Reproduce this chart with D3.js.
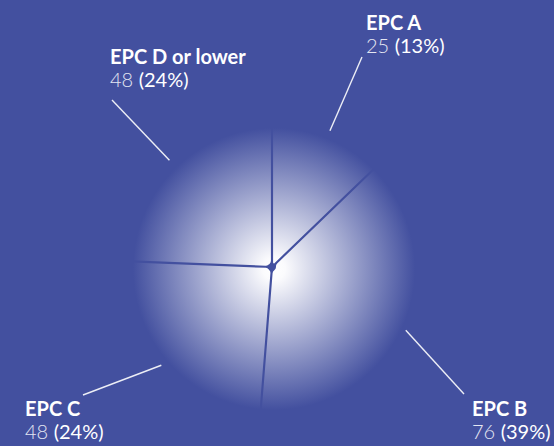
<!DOCTYPE html>
<html>
<head>
<meta charset="utf-8">
<script src="https://cdn.jsdelivr.net/npm/d3@7"></script>
<style>
  html, body { margin: 0; padding: 0; background: #43509f; }
  svg { display: block; }
  text { font-family: Lato, "Open Sans", sans-serif; }
</style>
</head>
<body>
<svg id="chart" width="554" height="446"></svg>
<script>
// EPC rating breakdown
const categories = ["EPC A", "EPC B", "EPC C", "EPC D or lower"];
const counts = [25, 76, 48, 48];
const shareLabels = ["13%", "39%", "24%", "24%"];

const W = 554, H = 446;
const BG = "#43509f";
const cx = 272, cy = 267, R = 145;

// leader-line end points and label block placement (text left x, title baseline)
const labelLayout = [
  { end: [362, 57],  x: 366, y: 30 },
  { end: [464, 394], x: 472, y: 416 },
  { end: [83, 395],  x: 25,  y: 416 },
  { end: [112, 100], x: 110, y: 64 }
];

const svg = d3.select("#chart");
svg.append("rect").attr("width", W).attr("height", H).attr("fill", BG);

// white glow fading into the background before the rim, so the pie edge dissolves
const defs = svg.append("defs");
const grad = defs.append("radialGradient")
  .attr("id", "pieGlow")
  .attr("gradientUnits", "userSpaceOnUse")
  .attr("cx", 2).attr("cy", 2).attr("r", R - 4);
grad.append("stop").attr("offset", "0%").attr("stop-color", "#ffffff");
grad.append("stop").attr("offset", "8%").attr("stop-color", "#fbfbfd");
grad.append("stop").attr("offset", "100%").attr("stop-color", BG);

const data = categories.map((c, i) => ({ category: c, count: counts[i], share: shareLabels[i], i }));

const pie = d3.pie().sort(null).value(d => d.count).startAngle(0).padAngle(0.015);
const arc = d3.arc().innerRadius(4).outerRadius(R).cornerRadius(4);
const arcs = pie(data);

const g = svg.append("g").attr("transform", `translate(${cx},${cy})`);
g.selectAll("path.slice")
  .data(arcs)
  .join("path")
  .attr("class", "slice")
  .attr("d", arc)
  .attr("fill", "url(#pieGlow)");

// leader lines from each slice's mid-angle out to its label
const startR = 148;
svg.selectAll("line.leader")
  .data(arcs)
  .join("line")
  .attr("class", "leader")
  .attr("x1", d => cx + startR * Math.sin((d.startAngle + d.endAngle) / 2))
  .attr("y1", d => cy - startR * Math.cos((d.startAngle + d.endAngle) / 2))
  .attr("x2", d => labelLayout[d.data.i].end[0])
  .attr("y2", d => labelLayout[d.data.i].end[1])
  .attr("stroke", "#ffffff")
  .attr("stroke-opacity", 0.9)
  .attr("stroke-width", 1.4);

const labels = svg.selectAll("g.label")
  .data(data)
  .join("g")
  .attr("class", "label")
  .attr("transform", d => `translate(${labelLayout[d.i].x},${labelLayout[d.i].y})`);

labels.append("text")
  .attr("fill", "#ffffff")
  .attr("font-size", 20)
  .attr("font-weight", 700)
  .text(d => d.category);

const val = labels.append("text")
  .attr("y", 23)
  .attr("font-size", 20);
val.append("tspan")
  .attr("fill", "#e4e6f2")
  .attr("font-weight", 300)
  .text(d => d.count + " ");
val.append("tspan")
  .attr("fill", "#ffffff")
  .attr("font-weight", 400)
  .text(d => "(" + d.share + ")");
</script>
</body>
</html>
